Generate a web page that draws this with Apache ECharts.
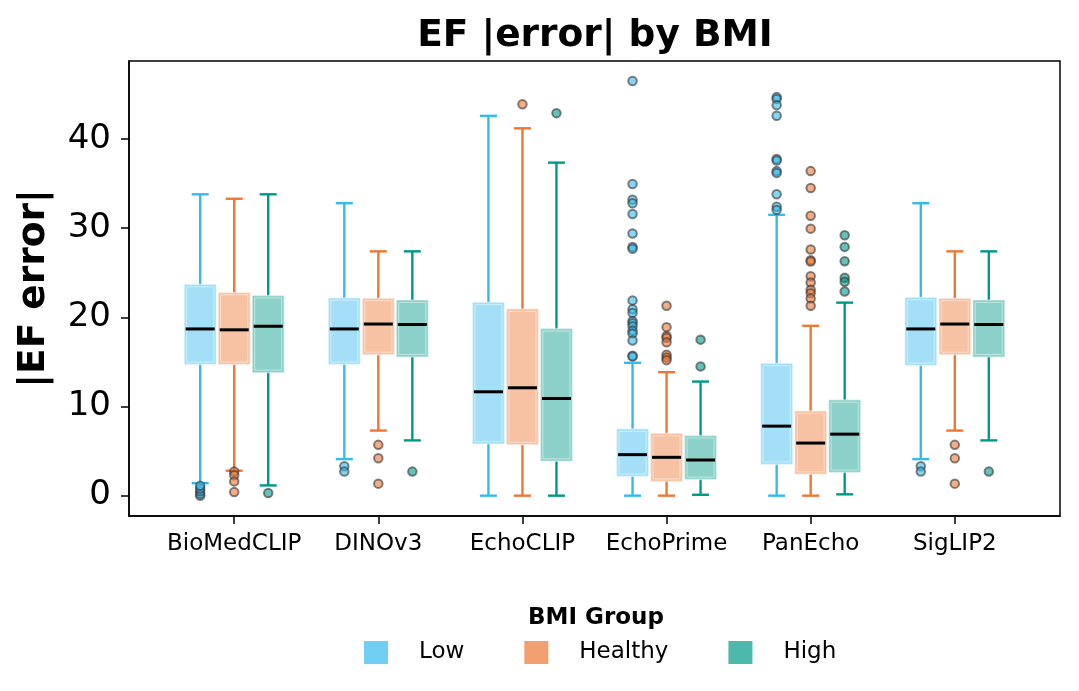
<!DOCTYPE html>
<html>
<head>
<meta charset="utf-8">
<script src="https://cdn.jsdelivr.net/npm/echarts@6/dist/echarts.min.js"></script>
<style>html,body{margin:0;padding:0;background:#fff}#c{width:1079px;height:691px}</style>
</head>
<body>
<div id="c"></div>
<script>
const categories = ['BioMedCLIP', 'DINOv3', 'EchoCLIP', 'EchoPrime', 'PanEcho', 'SigLIP2'];
const groups = ['Low', 'Healthy', 'High'];
const yTicks = [0, 10, 20, 30, 40];

// [lower whisker, Q1, median, Q3, upper whisker] per category
const lowStats = [
  [1.4, 14.7, 18.7, 23.7, 33.8],
  [4.1, 14.7, 18.7, 22.2, 32.8],
  [0.0, 5.8, 11.65, 21.7, 42.6],
  [0.0, 2.15, 4.6, 7.5, 14.9],
  [0.0, 3.5, 7.8, 14.85, 31.5],
  [4.1, 14.6, 18.7, 22.25, 32.8]
];
const healthyStats = [
  [2.8, 14.7, 18.6, 22.8, 33.3],
  [7.3, 15.8, 19.25, 22.15, 27.4],
  [0.0, 5.7, 12.1, 20.95, 41.2],
  [0.0, 1.6, 4.3, 7.0, 13.85],
  [0.0, 2.4, 5.9, 9.5, 19.05],
  [7.3, 15.8, 19.25, 22.15, 27.4]
];
const highStats = [
  [1.15, 13.8, 19.0, 22.45, 33.8],
  [6.2, 15.55, 19.2, 21.95, 27.4],
  [0.0, 3.85, 10.9, 18.75, 37.35],
  [0.1, 1.8, 4.0, 6.75, 12.8],
  [0.15, 2.6, 6.9, 10.75, 21.65],
  [6.2, 15.55, 19.2, 21.95, 27.4]
];

// outlier values per category
const lowOutliers = [
  [0.0, 0.2, 0.5, 0.8, 1.1],
  [3.3, 2.7],
  [],
  [46.5, 34.95, 33.2, 32.8, 31.6, 29.4, 27.9, 27.7, 21.9, 20.9, 20.5, 19.6, 19.35, 19.0, 18.5, 18.2, 17.4, 15.7, 15.6],
  [44.7, 44.5, 43.8, 42.6, 37.75, 37.6, 36.4, 36.2, 33.8, 32.4, 32.05],
  [3.3, 2.7]
];
const healthyOutliers = [
  [2.7, 2.3, 1.6, 0.4],
  [5.7, 4.2, 1.35],
  [43.9],
  [21.3, 18.9, 17.9, 17.7, 17.2, 15.8, 15.5, 15.2],
  [36.4, 34.5, 31.4, 29.95, 27.6, 26.4, 26.25, 24.6, 23.9, 23.1, 22.7, 22.1, 21.3],
  [5.7, 4.2, 1.35]
];
const highOutliers = [
  [0.3],
  [2.7],
  [42.9],
  [17.5, 14.5],
  [29.2, 27.9, 26.3, 24.45, 24.0, 22.9],
  [2.7]
];

const lineColors = ['#33bbee', '#ee7733', '#009988'];
const boxFills = ['rgba(51,187,238,0.45)', 'rgba(238,119,51,0.45)', 'rgba(0,153,136,0.45)'];
const legendColors = ['#70cff3', '#f3a070', '#4db8ac'];

const statsAll = [lowStats, healthyStats, highStats];
const outAll = [lowOutliers, healthyOutliers, highOutliers];
const OFFSET = 0.236, BOXW = 0.222, CAPW = 0.118;

const series = [];
groups.forEach((g, gi) => {
  const off = (gi - 1) * OFFSET;
  series.push({
    name: g,
    type: 'custom',
    itemStyle: { color: legendColors[gi] },
    encode: { x: 0, y: [1, 2, 3, 4, 5] },
    data: statsAll[gi].map((s, ci) => [ci].concat(s)),
    z: 2,
    renderItem: function (params, api) {
      const x = api.value(0) + off;
      const lw = api.value(1), q1 = api.value(2), md = api.value(3), q3 = api.value(4), uw = api.value(5);
      const xl = api.coord([x - BOXW / 2, q1])[0];
      const xr = api.coord([x + BOXW / 2, q1])[0];
      const xc = api.coord([x, q1])[0];
      const cl = api.coord([x - CAPW / 2, q1])[0];
      const cr = api.coord([x + CAPW / 2, q1])[0];
      const yLw = api.coord([x, lw])[1], yQ1 = api.coord([x, q1])[1], yMd = api.coord([x, md])[1];
      const yQ3 = api.coord([x, q3])[1], yUw = api.coord([x, uw])[1];
      const ls = { stroke: lineColors[gi], lineWidth: 2.4 };
      return {
        type: 'group',
        children: [
          { type: 'line', shape: { x1: xc, y1: yQ1, x2: xc, y2: yLw }, style: ls },
          { type: 'line', shape: { x1: xc, y1: yQ3, x2: xc, y2: yUw }, style: ls },
          { type: 'line', shape: { x1: cl, y1: yLw, x2: cr, y2: yLw }, style: ls },
          { type: 'line', shape: { x1: cl, y1: yUw, x2: cr, y2: yUw }, style: ls },
          { type: 'rect', shape: { x: xl, y: yQ3, width: xr - xl, height: yQ1 - yQ3 },
            style: { fill: boxFills[gi], stroke: 'rgba(255,255,255,0.35)', lineWidth: 1.5 } },
          { type: 'rect', shape: { x: xl + 2.5, y: yQ3 + 2.5, width: xr - xl - 5, height: yQ1 - yQ3 - 5 },
            style: { fill: 'none', stroke: 'rgba(255,255,255,0.45)', lineWidth: 1 } },
          { type: 'line', shape: { x1: xl + 1.5, y1: yMd, x2: xr - 1.5, y2: yMd },
            style: { stroke: '#000', lineWidth: 3 } }
        ]
      };
    }
  });
});
groups.forEach((g, gi) => {
  const off = (gi - 1) * OFFSET;
  const pts = [];
  outAll[gi].forEach((vals, ci) => vals.forEach(v => pts.push([ci + off, v])));
  series.push({
    name: g + ' outliers',
    type: 'scatter',
    data: pts,
    symbol: 'circle',
    symbolSize: 8.5,
    z: 3,
    itemStyle: { color: lineColors[gi], opacity: 0.6, borderColor: '#333', borderWidth: 2 }
  });
});

const chart = echarts.init(document.getElementById('c'), null, { renderer: 'canvas' });
chart.setOption({
  animation: false,
  backgroundColor: '#fff',
  textStyle: { fontFamily: 'DejaVu Sans' },
  grid: { left: 129, right: 19, top: 61, bottom: 175, show: true, borderColor: '#000', borderWidth: 1.5, backgroundColor: 'transparent' },
  graphic: [
    { type: 'text', x: 595, y: 36, style: { text: 'EF |error| by BMI', font: 'bold 37.5px "DejaVu Sans"', fill: '#000', textAlign: 'center', textVerticalAlign: 'middle' } },
    { type: 'text', x: 596, y: 618, style: { text: 'BMI Group', font: 'bold 23px "DejaVu Sans"', fill: '#000', textAlign: 'center', textVerticalAlign: 'middle' } }
  ],
  legend: {
    data: groups,
    left: 364, top: 641,
    padding: 0,
    orient: 'horizontal',
    icon: 'rect',
    itemWidth: 24, itemHeight: 23,
    itemGap: 60,
    textStyle: { fontSize: 23, color: '#000', fontFamily: 'DejaVu Sans', padding: [0, 0, 0, 26] },
    selectedMode: false
  },
  xAxis: {
    type: 'value',
    min: -0.73, max: 5.73,
    splitLine: { show: false },
    axisLine: { show: true, onZero: false, lineStyle: { color: '#000', width: 1.5 } },
    axisTick: { show: true, length: 8, customValues: categories.map((c, i) => i), lineStyle: { color: '#000', width: 1.5 } },
    axisLabel: { customValues: categories.map((c, i) => i), formatter: v => categories[Math.round(v)], fontSize: 23, color: '#000', margin: 17, fontFamily: 'DejaVu Sans' }
  },
  yAxis: {
    type: 'value',
    min: -2.28, max: 48.75,
    name: '|EF error|',
    nameLocation: 'middle',
    nameRotate: 90,
    nameGap: 76,
    nameTextStyle: { fontSize: 37.5, fontWeight: 'bold', color: '#000', fontFamily: 'DejaVu Sans' },
    splitLine: { show: false },
    axisLine: { show: true, onZero: false, lineStyle: { color: '#000', width: 1.5 } },
    axisTick: { show: true, length: 8, customValues: yTicks, lineStyle: { color: '#000', width: 1.5 } },
    axisLabel: { customValues: yTicks, fontSize: 34, color: '#000', margin: 18, fontFamily: 'DejaVu Sans' }
  },
  series: series
});
</script>
</body>
</html>
